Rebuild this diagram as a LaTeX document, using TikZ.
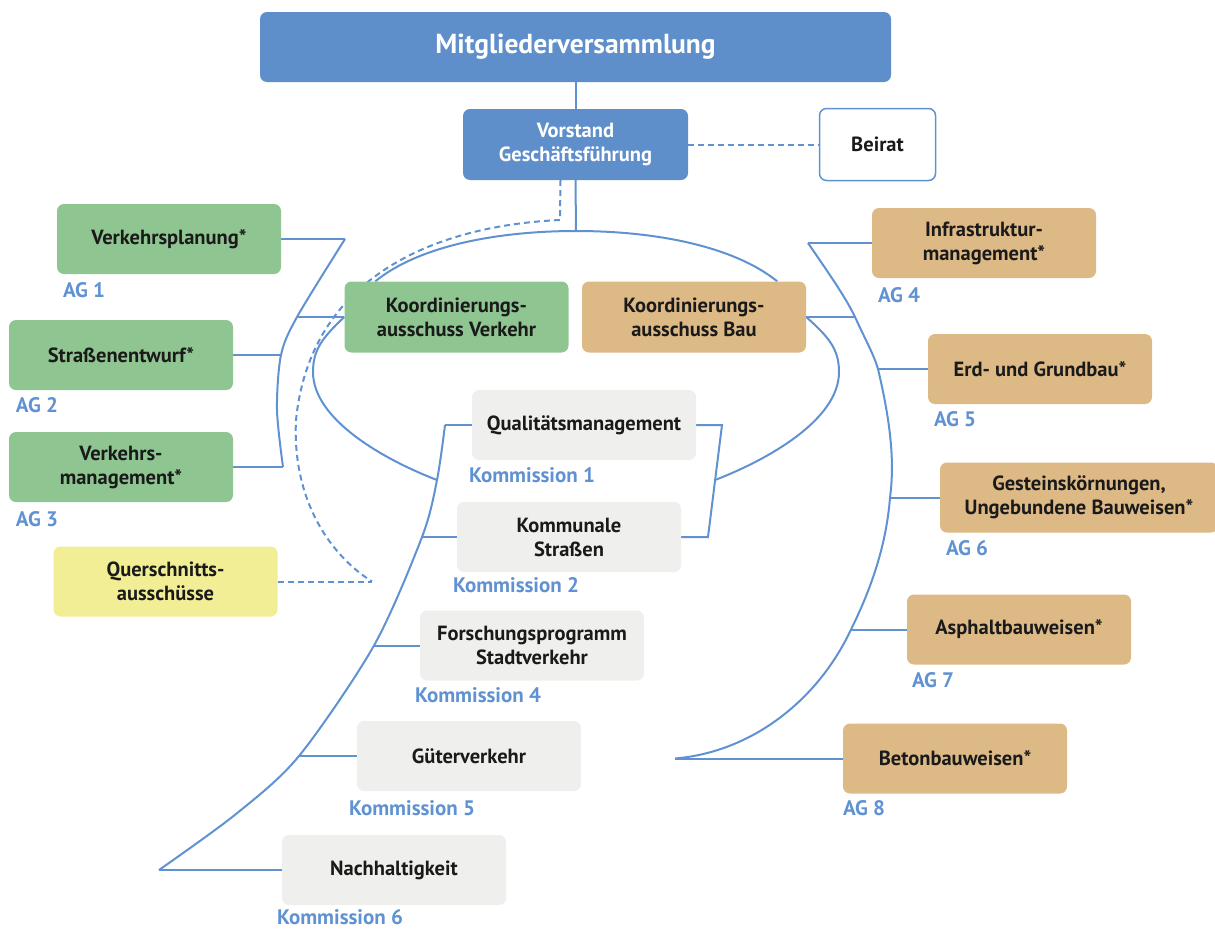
\documentclass[tikz,border=0pt]{standalone}
\usepackage{fontspec}
\setmainfont{PT Sans}
\usetikzlibrary{backgrounds}

\definecolor{mvblue}{HTML}{5F8FCB}
\definecolor{linkblue}{HTML}{6092D2}
\definecolor{agreen}{HTML}{8FC591}
\definecolor{agtan}{HTML}{DDB986}
\definecolor{qyellow}{HTML}{F2EE96}
\definecolor{kgray}{HTML}{EFEFED}
\definecolor{txt}{HTML}{1A1A1A}

\tikzset{
  link/.style={draw=linkblue, line width=2pt},
  dashlink/.style={link, dash pattern=on 6pt off 4pt},
  box/.style={rounded corners=7pt, minimum width=224pt, minimum height=70pt,
    align=center, inner sep=3pt, text=txt, font=\bfseries\fontsize{20.5}{24}\selectfont},
  agv/.style={box, fill=agreen},
  agb/.style={box, fill=agtan},
  kom/.style={box, fill=kgray},
  lab/.style={anchor=west, inner sep=0pt, text=linkblue, font=\bfseries\fontsize{21}{22}\selectfont}
}

\begin{document}
\begin{tikzpicture}[x=1pt, y=-1pt]
  \useasboundingbox (0,0) rectangle (1215,929);

  % Leitung
  \node[box, fill=mvblue, text=white, minimum width=631pt, font=\bfseries\fontsize{27.5}{30}\selectfont] (mv) at (575.5,47) {Mitgliederversammlung};
  \node[box, fill=mvblue, text=white, minimum width=225pt, minimum height=71pt] (vg) at (575.5,144.5) {Vorstand\\Geschäftsführung};
  \node[box, fill=white, draw=linkblue, line width=1.5pt, minimum width=116pt, minimum height=72pt] (br) at (877.5,144.5) {Beirat};

  % AG Verkehr
  \node[agv] (vp) at (169,239) {Verkehrsplanung*};
  \node[agv] (se) at (121,355) {Straßenentwurf*};
  \node[agv] (vm) at (121,467) {Verkehrs-\\management*};
  \node[box, fill=qyellow] (qa) at (165.5,581.5) {Querschnitts-\\ausschüsse};

  % Koordinierung
  \node[agv, minimum height=71pt] (kv) at (456.5,317) {Koordinierungs-\\ausschuss Verkehr};
  \node[agb, minimum height=71pt] (kb) at (694,317) {Koordinierungs-\\ausschuss Bau};

  % Kommissionen
  \node[kom] (qm) at (584,425) {Qualitätsmanagement};
  \node[kom] (ks) at (569,537) {Kommunale\\Straßen};
  \node[kom] (fs) at (532,645.5) {Forschungsprogramm\\Stadtverkehr};
  \node[kom] (gv) at (469,756) {Güterverkehr};
  \node[kom] (nh) at (394,870) {Nachhaltigkeit};

  % AG Bau
  \node[agb] (ir) at (984,243) {Infrastruktur-\\management*};
  \node[agb] (eg) at (1040,369) {Erd- und Grundbau*};
  \node[agb, minimum width=278pt] (gs) at (1079,497.5) {Gesteinskörnungen,\\Ungebundene Bauweisen*};
  \node[agb] (ab) at (1019,629.5) {Asphaltbauweisen*};
  \node[agb] (bb) at (955,758.5) {Betonbauweisen*};

  % Nummern
  \node[lab] (lvp) at ([shift={(6,16)}]vp.south west) {AG 1};
  \node[lab] (lse) at ([shift={(7,15)}]se.south west) {AG 2};
  \node[lab] (lvm) at ([shift={(7,17)}]vm.south west) {AG 3};
  \node[lab] (lqm) at ([shift={(-3,15)}]qm.south west) {Kommission 1};
  \node[lab] (lks) at ([shift={(-4,13)}]ks.south west) {Kommission 2};
  \node[lab] (lfs) at ([shift={(-5,14)}]fs.south west) {Kommission 4};
  \node[lab] (lgv) at ([shift={(-8,17)}]gv.south west) {Kommission 5};
  \node[lab] (lnh) at ([shift={(-5,12)}]nh.south west) {Kommission 6};
  \node[lab] (lir) at ([shift={(6,17)}]ir.south west) {AG 4};
  \node[lab] (leg) at ([shift={(6,15)}]eg.south west) {AG 5};
  \node[lab] (lgs) at ([shift={(6,15)}]gs.south west) {AG 6};
  \node[lab] (lab) at ([shift={(5,15)}]ab.south west) {AG 7};
  \node[lab] (lbb) at ([shift={(0,14)}]bb.south west) {AG 8};

  % Knickpunkte
  \coordinate (etop) at (576,231);
  \coordinate (dtop) at (560,220);
  \coordinate (qend) at (372,581.5);
  \coordinate (al1) at (345,239);
  \coordinate (al2) at (297,317);
  \coordinate (al3) at (281,355);
  \coordinate (al4) at (277,410);
  \coordinate (al5) at (283,467);
  \coordinate (ar1) at (808,243);
  \coordinate (ar2) at (855,317);
  \coordinate (ar3) at (878,369);
  \coordinate (ar4) at (890,497.5);
  \coordinate (ar5) at (851,629.5);
  \coordinate (ar7) at (675,758.5);
  \coordinate (kl1) at (445,425);
  \coordinate (kl2) at (437,480);
  \coordinate (kl3) at (422,537);
  \coordinate (kl4) at (374,645.5);
  \coordinate (kl5) at (299,756);
  \coordinate (kl6) at (236,814);
  \coordinate (kl7) at (159,870);
  \coordinate (kr1) at (722,425);
  \coordinate (kr2) at (708,537);
  \coordinate (ejr) at (715,480);

  \begin{scope}[on background layer]
    \draw[link] (mv) -- (vg);
    \draw[dashlink] (vg) -- (br);
    \draw[link] (vg.south) -- (etop);
    \draw[dashlink] ([xshift=-15pt]vg.south) -- (dtop) .. controls (430,226) and (310,280) .. (296,420) .. controls (292,500) and (330,555) .. (qend);
    \draw[dashlink] (qa.east) -- (qend);

    % Ring
    \draw[link] ([xshift=31pt]kv.north west) .. controls (420,245) and (500,231) .. (etop) .. controls (652,231) and (732,245) .. ([xshift=-29pt]kb.north east);
    \draw[link] (kv.west) .. controls (322,338) and (313,350) .. (313,372) .. controls (313,420) and (385,460) .. (kl2);
    \draw[link] (kb.east) .. controls (830,338) and (839,350) .. (839,372) .. controls (839,420) and (767,460) .. (ejr);

    % AG Verkehr
    \draw[link] plot[smooth] coordinates {(al1) (al2) (al3) (al4) (al5)};
    \draw[link] (vp.east) -- (al1);
    \draw[link] (kv.west) -- (al2);
    \draw[link] (se.east) -- (al3);
    \draw[link] (vm.east) -- (al5);

    % AG Bau
    \draw[link] (ar1) .. controls (830,275) and (846,298) .. (ar2)
      .. controls (866,341) and (874,355) .. (ar3)
      .. controls (890,420) and (895,460) .. (ar4)
      .. controls (886,550) and (868,595) .. (ar5)
      .. controls (818,700) and (752,752) .. (ar7);
    \draw[link] (ir.west) -- (ar1);
    \draw[link] (kb.east) -- (ar2);
    \draw[link] (eg.west) -- (ar3);
    \draw[link] (gs.west) -- (ar4);
    \draw[link] (ab.west) -- (ar5);
    \draw[link] (bb.west) -- (ar7);

    % Kommissionen
    \draw[link] plot[smooth] coordinates {(kl1) (kl2) (kl3) (kl4) (kl5) (kl6) (kl7)};
    \draw[link] (qm.west) -- (kl1);
    \draw[link] (ks.west) -- (kl3);
    \draw[link] (fs.west) -- (kl4);
    \draw[link] (gv.west) -- (kl5);
    \draw[link] (nh.west) -- (kl7);
    \draw[link] (qm.east) -- (kr1) -- (kr2) -- (ks.east);
  \end{scope}
\end{tikzpicture}
\end{document}
